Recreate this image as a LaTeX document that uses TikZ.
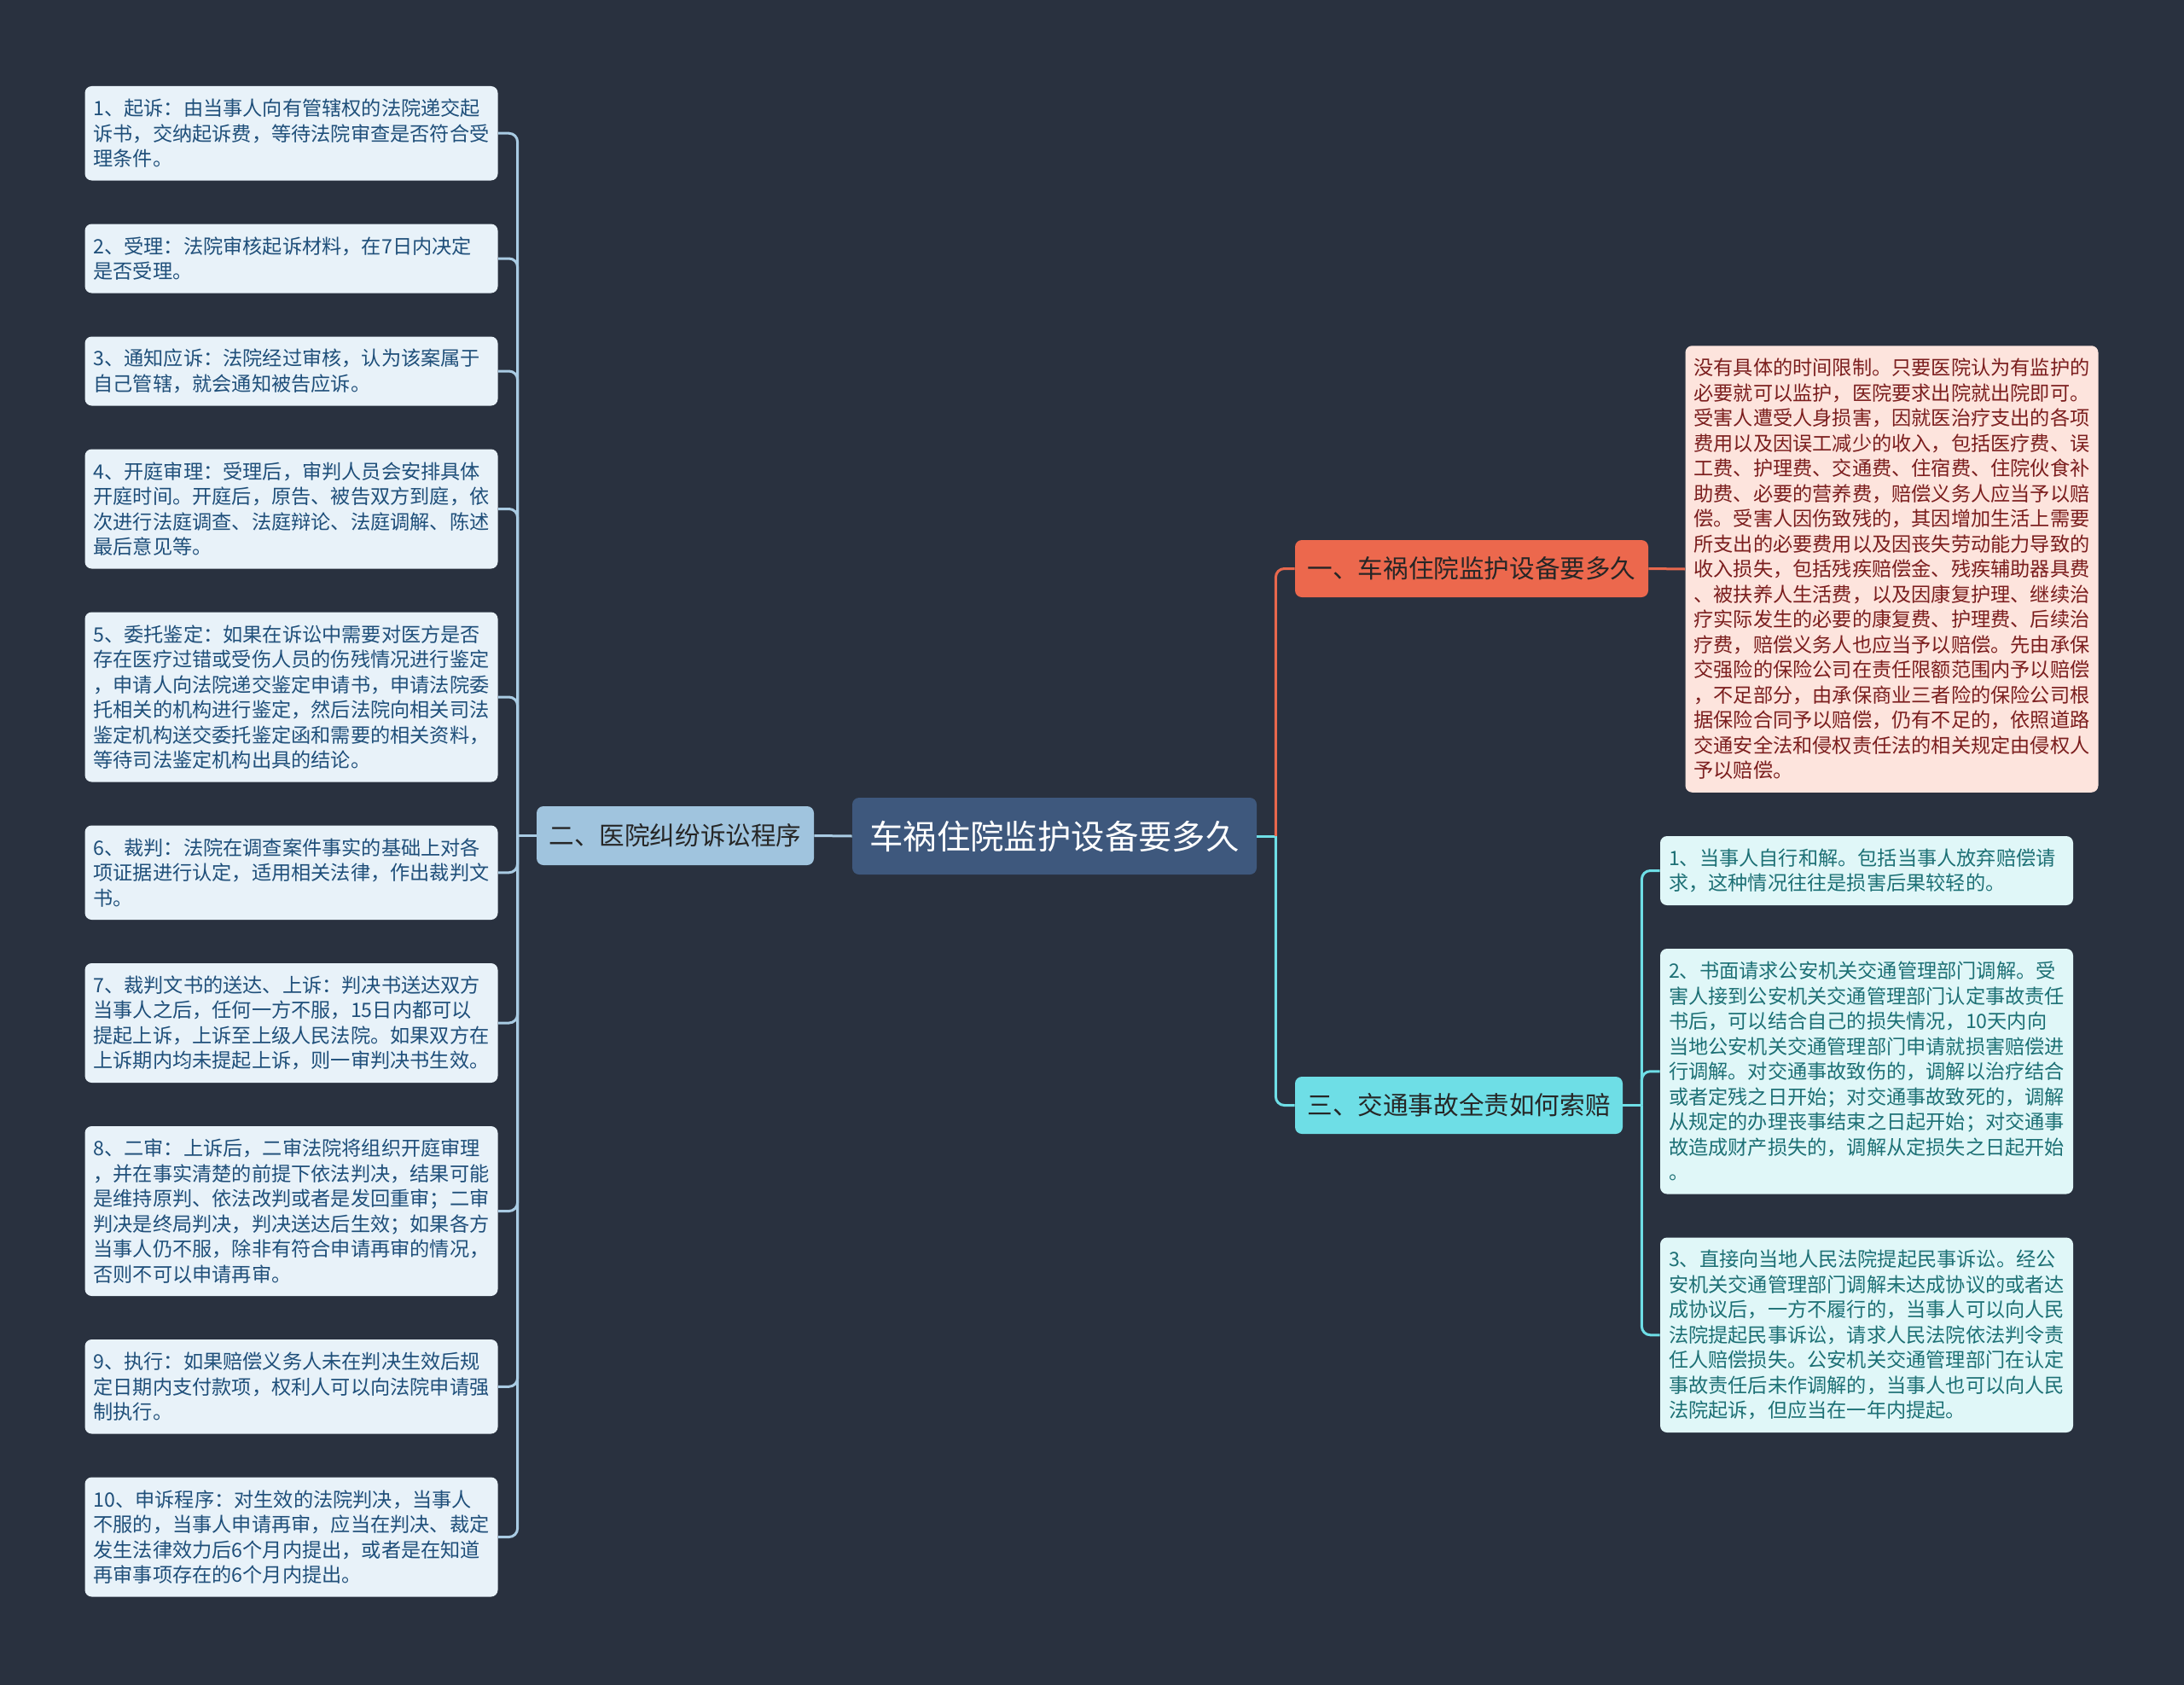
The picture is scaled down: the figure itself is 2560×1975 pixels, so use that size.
\documentclass[tikz,border=0pt]{standalone}
\usepackage{fontspec}
\newfontfamily\cjk{Noto Sans CJK SC}
\definecolor{bg}{HTML}{29313F}
\definecolor{cfill}{HTML}{3E587D}
\definecolor{lbranch}{HTML}{A0C4DE}
\definecolor{rbranch}{HTML}{EC684D}
\definecolor{cbranch}{HTML}{6EDEE6}
\definecolor{lfill}{HTML}{E8F2F9}
\definecolor{ltext}{HTML}{1F4F7A}
\definecolor{rfill}{HTML}{FDE4DD}
\definecolor{rtext}{HTML}{7B1E1E}
\definecolor{cyfill}{HTML}{E0F7F8}
\definecolor{cytext}{HTML}{1D7075}
\definecolor{lline}{HTML}{A9CBE3}
\definecolor{rline}{HTML}{E8684D}
\definecolor{cline}{HTML}{6EDEE6}
\tikzset{
  leaf/.style={rounded corners=4pt, text width=232pt, inner xsep=5pt, inner ysep=0pt,
    align=left, font=\cjk\fontsize{11.6}{14.75}\selectfont},
  leftleaf/.style={leaf, fill=lfill, text=ltext},
  redleaf/.style={leaf, fill=rfill, text=rtext},
  cyanleaf/.style={leaf, fill=cyfill, text=cytext},
  branch/.style={rounded corners=4pt, inner sep=0pt, font=\cjk\fontsize{14.8}{18}\selectfont},
  conn/.style={line width=1.5pt, rounded corners=5pt},
}
\begin{document}
\begin{tikzpicture}[x=0.5pt, y=-0.5pt]
\fill[bg] (0,0) rectangle (2560,1975);
\useasboundingbox (0,0) rectangle (2560,1975);

% central
\node[branch, fill=cfill, text=white, minimum width=237pt, minimum height=45pt,
  font=\cjk\fontsize{19.7}{24}\selectfont] (c) at (1236,980) {车祸住院监护设备要多久};

% branches
\node[branch, fill=lbranch, text=black!85, minimum width=162.5pt, minimum height=34.5pt] (b2) at (791.5,979.5) {二、医院纠纷诉讼程序};
\node[branch, fill=rbranch, text=black!85, minimum width=207pt, minimum height=33.5pt] (b1) at (1725,666.5) {一、车祸住院监护设备要多久};
\node[branch, fill=cbranch, text=black!85, minimum width=192pt, minimum height=33.5pt] (b3) at (1710,1295.5) {三、交通事故全责如何索赔};

% left leaves
\node[leftleaf, minimum height=55.25pt] (l1) at (341.5,156.25) {1、起诉：由当事人向有管辖权的法院递交起\\诉书，交纳起诉费，等待法院审查是否符合受\\理条件。};
\node[leftleaf, minimum height=40.5pt] (l2) at (341.5,303) {2、受理：法院审核起诉材料，在7日内决定\\是否受理。};
\node[leftleaf, minimum height=40.5pt] (l3) at (341.5,435) {3、通知应诉：法院经过审核，认为该案属于\\自己管辖，就会通知被告应诉。};
\node[leftleaf, minimum height=70pt] (l4) at (341.5,596.5) {4、开庭审理：受理后，审判人员会安排具体\\开庭时间。开庭后，原告、被告双方到庭，依\\次进行法庭调查、法庭辩论、法庭调解、陈述\\最后意见等。};
\node[leftleaf, minimum height=99.5pt] (l5) at (341.5,817) {5、委托鉴定：如果在诉讼中需要对医方是否\\存在医疗过错或受伤人员的伤残情况进行鉴定\\，申请人向法院递交鉴定申请书，申请法院委\\托相关的机构进行鉴定，然后法院向相关司法\\鉴定机构送交委托鉴定函和需要的相关资料，\\等待司法鉴定机构出具的结论。};
\node[leftleaf, minimum height=55.25pt] (l6) at (341.5,1022.75) {6、裁判：法院在调查案件事实的基础上对各\\项证据进行认定，适用相关法律，作出裁判文\\书。};
\node[leftleaf, minimum height=70pt] (l7) at (341.5,1199) {7、裁判文书的送达、上诉：判决书送达双方\\当事人之后，任何一方不服，15日内都可以\\提起上诉，上诉至上级人民法院。如果双方在\\上诉期内均未提起上诉，则一审判决书生效。};
\node[leftleaf, minimum height=99.5pt] (l8) at (341.5,1419.5) {8、二审：上诉后，二审法院将组织开庭审理\\，并在事实清楚的前提下依法判决，结果可能\\是维持原判、依法改判或者是发回重审；二审\\判决是终局判决，判决送达后生效；如果各方\\当事人仍不服，除非有符合申请再审的情况，\\否则不可以申请再审。};
\node[leftleaf, minimum height=55.25pt] (l9) at (341.5,1625.25) {9、执行：如果赔偿义务人未在判决生效后规\\定日期内支付款项，权利人可以向法院申请强\\制执行。};
\node[leftleaf, minimum height=70pt] (l10) at (341.5,1801.5) {10、申诉程序：对生效的法院判决，当事人\\不服的，当事人申请再审，应当在判决、裁定\\发生法律效力后6个月内提出，或者是在知道\\再审事项存在的6个月内提出。};

% red leaf
\node[redleaf, minimum height=261.75pt] (r1) at (2217.5,667) {没有具体的时间限制。只要医院认为有监护的\\必要就可以监护，医院要求出院就出院即可。\\受害人遭受人身损害，因就医治疗支出的各项\\费用以及因误工减少的收入，包括医疗费、误\\工费、护理费、交通费、住宿费、住院伙食补\\助费、必要的营养费，赔偿义务人应当予以赔\\偿。受害人因伤致残的，其因增加生活上需要\\所支出的必要费用以及因丧失劳动能力导致的\\收入损失，包括残疾赔偿金、残疾辅助器具费\\、被扶养人生活费，以及因康复护理、继续治\\疗实际发生的必要的康复费、护理费、后续治\\疗费，赔偿义务人也应当予以赔偿。先由承保\\交强险的保险公司在责任限额范围内予以赔偿\\，不足部分，由承保商业三者险的保险公司根\\据保险合同予以赔偿，仍有不足的，依照道路\\交通安全法和侵权责任法的相关规定由侵权人\\予以赔偿。};

% cyan leaves
\node[cyanleaf, minimum height=40.5pt] (c1) at (2188,1020.5) {1、当事人自行和解。包括当事人放弃赔偿请\\求，这种情况往往是损害后果较轻的。};
\node[cyanleaf, minimum height=143.75pt] (c2) at (2188,1255.75) {2、书面请求公安机关交通管理部门调解。受\\害人接到公安机关交通管理部门认定事故责任\\书后，可以结合自己的损失情况，10天内向\\当地公安机关交通管理部门申请就损害赔偿进\\行调解。对交通事故致伤的，调解以治疗结合\\或者定残之日开始；对交通事故致死的，调解\\从规定的办理丧事结束之日起开始；对交通事\\故造成财产损失的，调解从定损失之日起开始\\。};
\node[cyanleaf, minimum height=114.25pt] (c3) at (2188,1564.75) {3、直接向当地人民法院提起民事诉讼。经公\\安机关交通管理部门调解未达成协议的或者达\\成协议后，一方不履行的，当事人可以向人民\\法院提起民事诉讼，请求人民法院依法判令责\\任人赔偿损失。公安机关交通管理部门在认定\\事故责任后未作调解的，当事人也可以向人民\\法院起诉，但应当在一年内提起。};

% junctions
\coordinate (lj) at ([xshift=-11pt]b2.west);
\coordinate (rj) at ([xshift=11pt]c.east);
\coordinate (cj) at ([xshift=11pt]b3.east);

% connectors left
\draw[conn, lline] (c.west) -- (b2.east);
\draw[conn, lline] (b2.west) -- (lj);
\foreach \n in {l1,l2,l3,l4,l5,l6,l7,l8,l9,l10}{
  \draw[conn, lline] (lj) |- (\n.east);
}
% connectors right
\draw[conn, cline] (c.east) -- (rj);
\draw[conn, rline] (rj) |- (b1.west);
\draw[conn, cline] (rj) |- (b3.west);
\draw[conn, rline] (b1.east) -- (r1.west);
\draw[conn, cline] (b3.east) -- (cj);
\foreach \n in {c1,c2,c3}{
  \draw[conn, cline] (cj) |- (\n.west);
}
\end{tikzpicture}
\end{document}
